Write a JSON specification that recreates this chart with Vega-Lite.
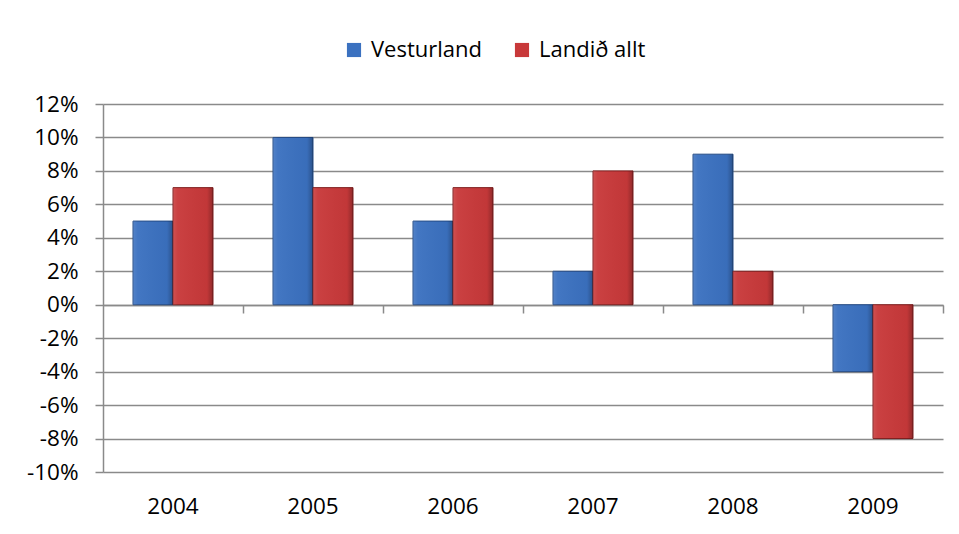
{
  "$schema": "https://vega.github.io/schema/vega-lite/v6.json",
  "width": 840,
  "height": 368,
  "autosize": {"type": "none"},
  "padding": {"left": 103, "top": 104, "right": 16, "bottom": 62},
  "background": "white",
  "config": {
    "view": {"stroke": null},
    "font": "Open Sans",
    "axis": {"labelFont": "Open Sans", "labelColor": "#000000", "labelFontSize": 22.5}
  },
  "data": {
    "values": [
      {"year": "2004", "series": "Vesturland", "value": 0.05},
      {"year": "2004", "series": "Landið allt", "value": 0.07},
      {"year": "2005", "series": "Vesturland", "value": 0.10},
      {"year": "2005", "series": "Landið allt", "value": 0.07},
      {"year": "2006", "series": "Vesturland", "value": 0.05},
      {"year": "2006", "series": "Landið allt", "value": 0.07},
      {"year": "2007", "series": "Vesturland", "value": 0.02},
      {"year": "2007", "series": "Landið allt", "value": 0.08},
      {"year": "2008", "series": "Vesturland", "value": 0.09},
      {"year": "2008", "series": "Landið allt", "value": 0.02},
      {"year": "2009", "series": "Vesturland", "value": -0.04},
      {"year": "2009", "series": "Landið allt", "value": -0.08}
    ]
  },
  "encoding": {
    "xOffset": {
      "field": "series", "type": "nominal",
      "sort": ["Vesturland", "Landið allt"],
      "scale": {"paddingInner": 0, "paddingOuter": 0.75}
    },
    "y": {
      "field": "value", "type": "quantitative",
      "scale": {"domain": [-0.1, 0.12], "nice": false, "zero": false},
      "axis": {
        "values": [-0.1, -0.08, -0.06, -0.04, -0.02, 0, 0.02, 0.04, 0.06, 0.08, 0.1, 0.12],
        "labelExpr": "replace(format(datum.value, '.0%'), '\u2212', '-')",
        "title": null,
        "grid": true,
        "gridColor": "#8a8a8a",
        "gridWidth": 1.5,
        "domainColor": "#8a8a8a",
        "domainWidth": 1.5,
        "tickColor": "#8a8a8a",
        "tickWidth": 1.5,
        "tickSize": 8,
        "labelPadding": 17
      }
    }
  },
  "layer": [
    {
      "mark": {"type": "bar", "strokeWidth": 1},
      "encoding": {
        "x": {
          "field": "year", "type": "nominal",
          "scale": {"paddingInner": 0, "paddingOuter": 0},
          "axis": {
            "orient": "bottom",
            "labelPadding": 23,
            "labelAngle": 0,
            "ticks": false,
            "domain": false,
            "title": null,
            "grid": false
          }
        },
        "color": {
          "field": "series", "type": "nominal",
          "sort": ["Vesturland", "Landið allt"],
          "scale": {"domain": ["Vesturland", "Landið allt"], "range": ["#3b71c0", "#c8393a"]},
          "legend": {
            "title": null,
            "orient": "none",
            "direction": "horizontal",
            "legendX": 240,
            "legendY": -65,
            "symbolType": "square",
            "symbolSize": 200,
            "symbolStrokeWidth": 0,
            "labelFontSize": 22,
            "labelFont": "Open Sans",
            "labelColor": "#000000",
            "labelOffset": 6,
            "columnPadding": 28
          }
        },
        "stroke": {
          "field": "series", "type": "nominal",
          "scale": {"domain": ["Vesturland", "Landið allt"], "range": ["#234a85", "#7e1c1c"]},
          "legend": null
        }
      }
    },
    {
      "mark": {
        "type": "bar",
        "fill": {
          "gradient": "linear", "x1": 0, "x2": 1, "y1": 0, "y2": 0,
          "stops": [
            {"offset": 0, "color": "rgba(255,255,255,0.12)"},
            {"offset": 0.12, "color": "rgba(255,255,255,0.04)"},
            {"offset": 0.85, "color": "rgba(0,0,0,0.03)"},
            {"offset": 1, "color": "rgba(0,0,0,0.28)"}
          ]
        }
      },
      "encoding": {
        "x": {
          "field": "year", "type": "nominal",
          "axis": {
            "orient": "bottom",
            "offset": -167,
            "labels": false,
            "bandPosition": 1,
            "ticks": true,
            "tickSize": 8,
            "tickColor": "#8a8a8a",
            "tickWidth": 1.5,
            "domain": true,
            "domainColor": "#8a8a8a",
            "domainWidth": 1.5,
            "title": null,
            "grid": false
          }
        }
      }
    }
  ],
  "resolve": {"axis": {"x": "independent"}}
}
